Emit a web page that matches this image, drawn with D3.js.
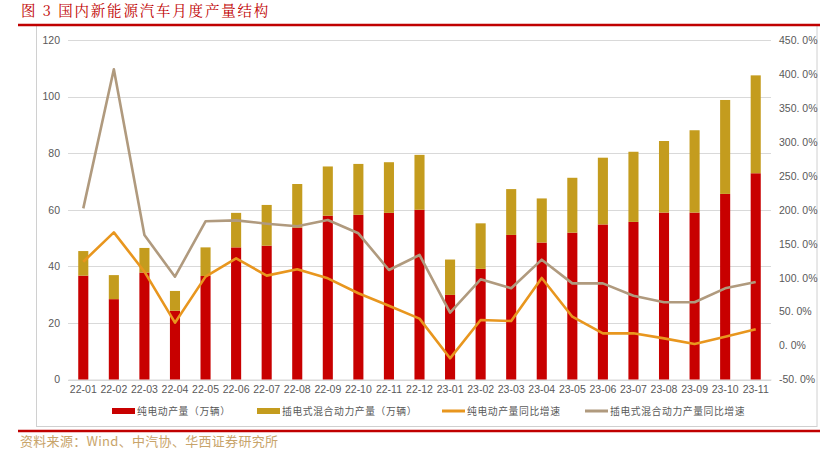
<!DOCTYPE html>
<html>
<head>
<meta charset="utf-8">
<script src="https://cdn.jsdelivr.net/npm/d3@7/dist/d3.min.js"></script>
<style>
  html, body { margin: 0; padding: 0; background: #fff; }
  svg { display: block; }
</style>
</head>
<body>
<svg id="chart" width="838" height="458"></svg>
<script>
// Monthly NEV output (10k units) and year-on-year growth (%)
const months = ["22-01","22-02","22-03","22-04","22-05","22-06","22-07","22-08","22-09","22-10","22-11","22-12",
                "23-01","23-02","23-03","23-04","23-05","23-06","23-07","23-08","23-09","23-10","23-11"];
const bevOutput  = [36.7, 28.4, 37.8, 24.3, 36.6, 46.7, 47.3, 53.7, 57.9, 58.2, 58.9, 60.0,
                    29.9, 39.1, 51.1, 48.4, 51.9, 54.8, 55.7, 59.0, 59.0, 65.6, 72.9];
const phevOutput = [8.7, 8.5, 8.7, 7.0, 10.1, 12.2, 14.4, 15.4, 17.4, 18.0, 17.9, 19.4,
                    12.5, 16.1, 16.2, 15.6, 19.4, 23.6, 24.8, 25.3, 29.1, 33.2, 34.6];
const bevYoY     = [123.5, 166.7, 108.8, 33.7, 101.5, 128.5, 103.0, 112.3, 99.0, 77.0, 58.7, 39.6,
                    -18.8, 37.6, 36.2, 99.5, 42.5, 18.0, 18.0, 10.6, 2.3, 13.0, 23.9];
const phevYoY    = [202.0, 406.8, 162.8, 101.4, 183.0, 184.4, 179.5, 175.6, 184.9, 165.3, 111.3, 133.4,
                    48.4, 97.5, 84.3, 126.5, 91.6, 91.6, 73.4, 63.7, 63.7, 84.3, 93.6];
const leftTicks  = [0, 20, 40, 60, 80, 100, 120];
const rightTicks = [-50, 0, 50, 100, 150, 200, 250, 300, 350, 400, 450];
const seriesNames = ["纯电动产量（万辆）", "插电式混合动力产量（万辆）", "纯电动产量同比增速", "插电式混合动力产量同比增速"];
const titleText = "图 3 国内新能源汽车月度产量结构";
const sourceText = "资料来源：Wind、中汽协、华西证券研究所";

const C = { bev: "#c80000", phev: "#c49c1e", bevLine: "#e8961e", phevLine: "#b09a7e",
            grid: "#d9d9d9", text: "#595959", frame: "#d0d0d0", brand: "#c00000", source: "#c8a46a" };

const svg = d3.select("#chart");
const cjk = "'Noto Sans CJK SC', 'Noto Sans', sans-serif";
const num = "'Liberation Sans', 'DejaVu Sans', sans-serif";

const plot = { left: 68, right: 771, top: 40, bottom: 379.5 };

const x = d3.scaleBand().domain(months).range([plot.left, plot.right]).paddingInner(0.67).paddingOuter(0.335);
const yL = d3.scaleLinear().domain([0, 120]).range([plot.bottom, plot.top]);
const yR = d3.scaleLinear().domain([-50, 450]).range([plot.bottom, plot.top]);

// Page frame and header/footer rules
svg.append("rect").attr("x", 36.5).attr("y", 25).attr("width", 780.5).attr("height", 401.5)
  .attr("fill", "none").attr("stroke", C.frame).attr("stroke-width", 1);
svg.append("line").attr("x1", 18).attr("x2", 820).attr("y1", 25).attr("y2", 25)
  .attr("stroke", C.brand).attr("stroke-width", 2.5);
svg.append("line").attr("x1", 18).attr("x2", 820).attr("y1", 431).attr("y2", 431)
  .attr("stroke", C.brand).attr("stroke-width", 2.5);

svg.append("text").attr("x", 21).attr("y", 16).attr("fill", C.brand)
  .attr("font-family", "'Noto Serif CJK SC', 'Noto Sans CJK SC', serif").attr("font-size", 14.5)
  .attr("letter-spacing", 1.8)
  .text(titleText);
svg.append("text").attr("x", 20).attr("y", 446).attr("fill", C.source)
  .attr("font-family", cjk).attr("font-size", 13).attr("letter-spacing", 0.3)
  .text(sourceText);

// Gridlines
svg.append("g").selectAll("line").data(leftTicks).join("line")
  .attr("x1", plot.left).attr("x2", plot.right)
  .attr("y1", d => Math.round(yL(d)) + 0.5).attr("y2", d => Math.round(yL(d)) + 0.5)
  .attr("stroke", C.grid).attr("stroke-width", 1);

// Left axis
const axL = svg.append("g").attr("transform", `translate(${plot.left - 8},0)`)
  .call(d3.axisLeft(yL).tickValues(leftTicks).tickSize(0).tickPadding(0));
axL.select(".domain").remove();
axL.selectAll("text").attr("fill", C.text).attr("font-family", num).attr("font-size", 10.5);

// Right axis
const axR = svg.append("g").attr("transform", `translate(${plot.right + 8},0)`)
  .call(d3.axisRight(yR).tickValues(rightTicks).tickSize(0).tickPadding(0)
    .tickFormat(d => d.toFixed(1).replace(".", ". ") + "%"));
axR.select(".domain").remove();
axR.selectAll("text").attr("fill", C.text).attr("font-family", num).attr("font-size", 10.5);

// Bottom axis
const axB = svg.append("g").attr("transform", `translate(0,${plot.bottom})`)
  .call(d3.axisBottom(x).tickSize(0).tickPadding(6));
axB.select(".domain").attr("stroke", C.grid);
axB.selectAll("text").attr("fill", C.text).attr("font-family", num).attr("font-size", 10.5);

// Stacked bars
const stackData = months.map((m, i) => ({ month: m, bev: bevOutput[i], phev: phevOutput[i] }));
const stacked = d3.stack().keys(["bev", "phev"])(stackData);
const barColors = { bev: C.bev, phev: C.phev };
svg.append("g").selectAll("g").data(stacked).join("g")
  .attr("fill", s => barColors[s.key])
  .selectAll("rect").data(s => s).join("rect")
  .attr("x", d => x(d.data.month))
  .attr("width", x.bandwidth())
  .attr("y", d => yL(d[1]))
  .attr("height", d => yL(d[0]) - yL(d[1]));

// Growth lines on the right axis
const line = d3.line().x((d, i) => x(months[i]) + x.bandwidth() / 2).y(d => yR(d));
svg.append("path").datum(phevYoY).attr("d", line)
  .attr("fill", "none").attr("stroke", C.phevLine).attr("stroke-width", 2.6).attr("stroke-linejoin", "round");
svg.append("path").datum(bevYoY).attr("d", line)
  .attr("fill", "none").attr("stroke", C.bevLine).attr("stroke-width", 2.6).attr("stroke-linejoin", "round");

// Legend
const legendItems = [
  { name: seriesNames[0], color: C.bev, type: "bar", x: 112 },
  { name: seriesNames[1], color: C.phev, type: "bar", x: 257 },
  { name: seriesNames[2], color: C.bevLine, type: "line", x: 442 },
  { name: seriesNames[3], color: C.phevLine, type: "line", x: 585 }
];
const lg = svg.append("g").selectAll("g").data(legendItems).join("g")
  .attr("transform", d => `translate(${d.x},411)`);
lg.append("rect").attr("x", 0).attr("width", 23)
  .attr("y", d => d.type === "bar" ? -3 : -1.5)
  .attr("height", d => d.type === "bar" ? 6 : 3)
  .attr("fill", d => d.color);
lg.append("text").attr("x", 25).attr("y", 0).attr("dy", "0.36em")
  .attr("fill", C.text).attr("font-family", cjk).attr("font-size", 9.8)
  .attr("letter-spacing", 0.6)
  .text(d => d.name);
</script>
</body>
</html>
